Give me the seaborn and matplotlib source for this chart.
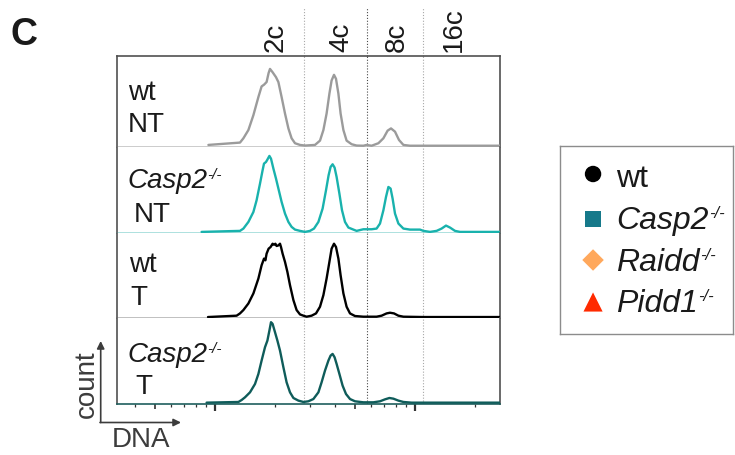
import numpy as np
import pandas as pd
import matplotlib
matplotlib.use("Agg")
import matplotlib.pyplot as plt
from matplotlib.ticker import FixedLocator, NullFormatter
from matplotlib.transforms import blended_transform_factory
from matplotlib.patches import FancyArrowPatch
import seaborn as sns

# ---- DNA content histograms (log10 DNA signal, counts as % of panel height) ----
wt_nt_log10dna = [2.967, 3.125, 3.142, 3.167, 3.192, 3.217, 3.233, 3.245, 3.258, 3.268,
                  3.275, 3.288, 3.305, 3.317, 3.333, 3.35, 3.367, 3.383, 3.4, 3.425,
                  3.45, 3.5, 3.525, 3.542, 3.558, 3.572, 3.583, 3.595, 3.605, 3.617,
                  3.628, 3.642, 3.658, 3.683, 3.708, 3.742, 3.758, 3.783, 3.817, 3.842,
                  3.863, 3.88, 3.9, 3.92, 3.942, 3.975, 4.425]
wt_nt_count = [0.9, 3.5, 8.3, 17.5, 34.1, 54.3, 66.1, 68.0, 71.0, 81.0,
               85.6, 81.9, 76.4, 70.9, 54.3, 35.9, 19.3, 8.3, 2.8, 0.9,
               0.2, 0.9, 5.7, 17.5, 35.9, 58.0, 72.7, 79.0, 74.6, 58.0,
               35.9, 17.5, 5.7, 1.7, 0.2, 0.0, 0.9, 0.0, 2.8, 8.3,
               16.8, 19.3, 15.7, 6.4, 0.9, 0.0, 0.0]

casp2_nt_log10dna = [2.933, 3.125, 3.142, 3.167, 3.192, 3.208, 3.225, 3.238, 3.245, 3.255,
                     3.262, 3.272, 3.28, 3.292, 3.305, 3.317, 3.333, 3.35, 3.367, 3.383,
                     3.4, 3.425, 3.45, 3.475, 3.495, 3.517, 3.538, 3.555, 3.568, 3.578,
                     3.588, 3.598, 3.608, 3.622, 3.635, 3.65, 3.667, 3.692, 3.708, 3.742,
                     3.783, 3.808, 3.825, 3.842, 3.855, 3.867, 3.878, 3.888, 3.9, 3.917,
                     3.942, 3.975, 4.025, 4.042, 4.075, 4.108, 4.133, 4.155, 4.175, 4.2,
                     4.225, 4.425]
casp2_nt_count = [0.0, 1.2, 3.9, 11.7, 23.4, 37.1, 56.6, 72.3, 80.1, 82.0,
                  84.8, 89.1, 85.9, 74.2, 62.5, 50.8, 35.2, 21.5, 11.7, 5.9,
                  2.7, 1.2, 0.0, 1.2, 3.9, 11.7, 27.3, 48.8, 66.4, 76.2,
                  79.3, 75.4, 64.5, 44.9, 25.4, 11.7, 5.1, 2.7, 1.2, 3.1,
                  3.1, 3.9, 9.8, 25.4, 41.0, 52.7, 50.8, 39.1, 21.5, 9.8,
                  3.9, 2.7, 2.7, 1.2, 0.0, 1.2, 3.9, 7.4, 5.1, 1.2,
                  0.0, 0.0]

wt_t_log10dna = [2.965, 3.108, 3.125, 3.142, 3.167, 3.192, 3.217, 3.233, 3.245, 3.252,
                 3.258, 3.268, 3.278, 3.288, 3.295, 3.302, 3.308, 3.317, 3.325, 3.33,
                 3.338, 3.35, 3.362, 3.375, 3.392, 3.408, 3.425, 3.442, 3.458, 3.483,
                 3.505, 3.525, 3.542, 3.558, 3.572, 3.583, 3.595, 3.605, 3.617, 3.628,
                 3.642, 3.658, 3.675, 3.7, 3.742, 3.808, 3.833, 3.858, 3.875, 3.895,
                 3.917, 3.942, 4.042, 4.425]
wt_t_count = [0.0, 1.6, 4.3, 8.3, 16.1, 28.0, 45.7, 61.4, 69.3, 67.3,
              75.2, 81.1, 83.1, 87.0, 85.8, 87.0, 84.3, 85.0, 87.0, 83.1,
              75.2, 65.4, 53.5, 37.8, 20.1, 8.3, 3.1, 1.6, 0.4, 1.6,
              4.3, 12.2, 26.0, 45.7, 65.4, 81.1, 87.0, 83.1, 69.3, 49.6,
              28.0, 12.2, 4.3, 1.2, 0.4, 0.4, 1.6, 4.3, 5.1, 4.3,
              1.6, 0.4, 0.0, 0.0]

casp2_t_log10dna = [2.958, 3.117, 3.133, 3.15, 3.175, 3.2, 3.217, 3.233, 3.25, 3.262,
                    3.272, 3.28, 3.288, 3.3, 3.312, 3.325, 3.342, 3.358, 3.375, 3.392,
                    3.417, 3.442, 3.467, 3.492, 3.517, 3.533, 3.55, 3.567, 3.578, 3.588,
                    3.598, 3.608, 3.622, 3.638, 3.655, 3.675, 3.7, 3.742, 3.792, 3.825,
                    3.85, 3.872, 3.892, 3.917, 3.942, 3.983, 4.425]
casp2_t_count = [0.0, 0.8, 3.1, 6.3, 12.2, 22.0, 33.9, 49.6, 65.4, 73.2,
                 85.0, 94.9, 92.9, 83.1, 73.2, 61.4, 41.7, 24.0, 12.2, 5.5,
                 2.4, 0.8, 1.6, 4.3, 12.2, 24.0, 37.8, 49.6, 55.5, 57.5,
                 53.5, 45.7, 33.9, 20.1, 10.2, 4.3, 1.6, 0.4, 0.4, 1.6,
                 3.9, 5.5, 4.7, 2.4, 0.8, 0.0, 0.0]

row_genotypes = ["wt", "Casp2", "wt", "Casp2"]
row_treatments = ["NT", "NT", "T", "T"]
row_colors = ["#9b9b9b", "#19b2ad", "#000000", "#0f5c5a"]
row_dividers = ["#c4c4c4", "#9fdcd9", "#b5b5b5", "#1f5f5d"]

ploidy_labels = ["2c", "4c", "8c", "16c"]
ploidy_label_log10 = [3.2875, 3.6175, 3.895, 4.1775]
gate_log10 = [3.445, 3.76, 4.04]
gate_colors = ["#a8a8a8", "#4a4a4a", "#a8a8a8"]

legend_genotypes = ["wt", "Casp2", "Raidd", "Pidd1"]
legend_markers = ["o", "s", "D", "^"]
legend_sizes = [140, 120, 120, 190]
legend_colors = ["#000000", "#16798a", "#ffa85c", "#ff2a00"]
legend_italic = [False, True, True, True]

curves = [
    (wt_nt_log10dna, wt_nt_count),
    (casp2_nt_log10dna, casp2_nt_count),
    (wt_t_log10dna, wt_t_count),
    (casp2_t_log10dna, casp2_t_count),
]

sns.set_theme(style="white")
plt.rcParams["font.family"] = ["Liberation Sans", "DejaVu Sans"]
TXT = "#1a1a1a"

W, H = 735, 456
fig = plt.figure(figsize=(W / 100, H / 100), dpi=100)


def fx(x):
    return x / W


def fy(y):
    return 1 - y / H


X_LO, X_HI = 10 ** 2.51, 10 ** 4.425
gs = fig.add_gridspec(4, 1, left=fx(117), right=fx(500), top=fy(57), bottom=fy(404.5),
                      hspace=0, height_ratios=[90.5, 86, 85, 85.5])
axes = [fig.add_subplot(gs[i]) for i in range(4)]

for i, ax in enumerate(axes):
    lx, cy = curves[i]
    df = pd.DataFrame({"dna": 10 ** np.asarray(lx), "count": cy})
    sns.lineplot(data=df, x="dna", y="count", ax=ax, color=row_colors[i],
                 lw=1.7, estimator=None, sort=False, zorder=3)
    ax.set_xscale("log")
    ax.set_xlim(X_LO, X_HI)
    ax.set_ylim(-1, 100)
    ax.set_yticks([])
    ax.set_xlabel("")
    ax.set_ylabel("")
    ax.set_facecolor("white")
    for g, gc in zip(gate_log10, gate_colors):
        ax.axvline(10 ** g, color=gc, lw=0.8, ls=(0, (1, 1.6)), zorder=1)
    for side in ("left", "right"):
        ax.spines[side].set_color("#505050")
        ax.spines[side].set_linewidth(1.2)
    ax.spines["top"].set_visible(i == 0)
    ax.spines["top"].set_color("#505050")
    ax.spines["top"].set_linewidth(1.2)
    ax.spines["bottom"].set_color(row_dividers[i])
    ax.spines["bottom"].set_linewidth(1.2)
    if i < 3:
        ax.tick_params(axis="x", which="both", bottom=False, labelbottom=False)

# gate lines continue above the top panel
top = axes[0]
tr = blended_transform_factory(top.transData, top.transAxes)
for g, gc in zip(gate_log10, gate_colors):
    top.plot([10 ** g, 10 ** g], [1.0, 1.54], transform=tr, color=gc, lw=0.8,
             ls=(0, (1, 1.6)), clip_on=False)
for lab, pos in zip(ploidy_labels, ploidy_label_log10):
    top.text(10 ** pos, 1.05, lab, transform=tr, rotation=90, rotation_mode="anchor",
             ha="left", va="center_baseline", fontsize=20, color=TXT)

# log-scale ticks on the bottom axis
bot = axes[3]
bot.xaxis.set_major_locator(FixedLocator([1e3, 1e4]))
bot.xaxis.set_minor_locator(FixedLocator([4e2, 6e2, 7e2, 8e2, 9e2, 2e3, 3e3, 4e3,
                                          6e3, 7e3, 8e3, 9e3, 2e4]))
bot.xaxis.set_major_formatter(NullFormatter())
bot.xaxis.set_minor_formatter(NullFormatter())
bot.tick_params(axis="x", which="major", direction="out", length=5, width=1.6,
                color="#333333", bottom=True)
bot.tick_params(axis="x", which="minor", direction="out", length=2.2, width=0.9,
                color="#333333", bottom=True)
sec = bot.secondary_xaxis("bottom")
sec.set_xscale("log")
sec.xaxis.set_major_locator(FixedLocator([5e2, 5e3]))
sec.xaxis.set_minor_locator(FixedLocator([]))
sec.xaxis.set_major_formatter(NullFormatter())
sec.tick_params(axis="x", which="major", direction="out", length=3.6, width=1.2,
                color="#333333")
sec.spines["bottom"].set_visible(False)

# row labels: genotype (with superscript) and treatment
label_pos = [((128, 100), (128, 132)), ((127, 188), (134, 222)),
             ((129, 272), (130, 305)), ((127, 362), (135, 394))]
for (gxy, txy), gt, trt in zip(label_pos, row_genotypes, row_treatments):
    italic = gt != "wt"
    t = fig.text(fx(gxy[0]), fy(gxy[1]), gt, fontsize=20, color=TXT,
                 style="italic" if italic else "normal", va="baseline")
    if italic:
        plt.annotate("-/-", xy=(1, 1), xycoords=t, xytext=(0.5, 0),
                     textcoords="offset points", fontsize=11, style="italic",
                     color=TXT, ha="left", va="top")
    fig.text(fx(txy[0]), fy(txy[1]), trt, fontsize=20, color=TXT, va="baseline")

# panel letter
fig.text(fx(11), fy(45), "C", fontsize=27, fontweight="bold", color=TXT, va="baseline")

# axis arrows
ac = "#3c3c3c"
for (x0, y0), (x1, y1) in [((100.7, 423.5), (100.7, 342)), ((100.0, 423.5), (181, 423.5))]:
    fig.add_artist(FancyArrowPatch((fx(x0), fy(y0)), (fx(x1), fy(y1)),
                                   transform=fig.transFigure, arrowstyle="-|>",
                                   mutation_scale=11, lw=1.2, color=ac,
                                   shrinkA=0, shrinkB=0))
fig.text(fx(87), fy(384), "count", rotation=90, fontsize=20, color=ac,
         ha="center", va="center")
fig.text(fx(141), fy(447), "DNA", fontsize=20, color=ac, ha="center", va="baseline")

# genotype legend
lax = fig.add_axes([fx(560), fy(335), fx(733) - fx(560), (335 - 147) / H])
lax.set_xlim(0, 1)
lax.set_ylim(0, 1)
lax.set_xticks([])
lax.set_yticks([])
for s in lax.spines.values():
    s.set_color("#8c8c8c")
    s.set_linewidth(1.0)
marker_y = [(335 - 175) / 188, (335 - 220) / 188, (335 - 261) / 188, (335 - 303) / 188]
base_y = [(335 - 187) / 188, (335 - 229) / 188, (335 - 271) / 188, (335 - 312) / 188]
leg_df = pd.DataFrame({"x": [0.191] * 4, "y": marker_y, "genotype": legend_genotypes})
sns.scatterplot(data=leg_df, x="x", y="y", hue="genotype", style="genotype",
                size="genotype",
                palette=dict(zip(legend_genotypes, legend_colors)),
                markers=dict(zip(legend_genotypes, legend_markers)),
                sizes=dict(zip(legend_genotypes, legend_sizes)),
                linewidth=0, ax=lax, legend=False)
lax.set_xlabel("")
lax.set_ylabel("")
for name, yb, it in zip(legend_genotypes, base_y, legend_italic):
    t = lax.text(0.324, yb, name, fontsize=23, color=TXT, va="baseline",
                 style="italic" if it else "normal")
    if it:
        lax.annotate("-/-", xy=(1, 1), xycoords=t, xytext=(0.5, 0),
                     textcoords="offset points", fontsize=12, style="italic",
                     color=TXT, ha="left", va="top")

fig.savefig("out.png", dpi=100)
